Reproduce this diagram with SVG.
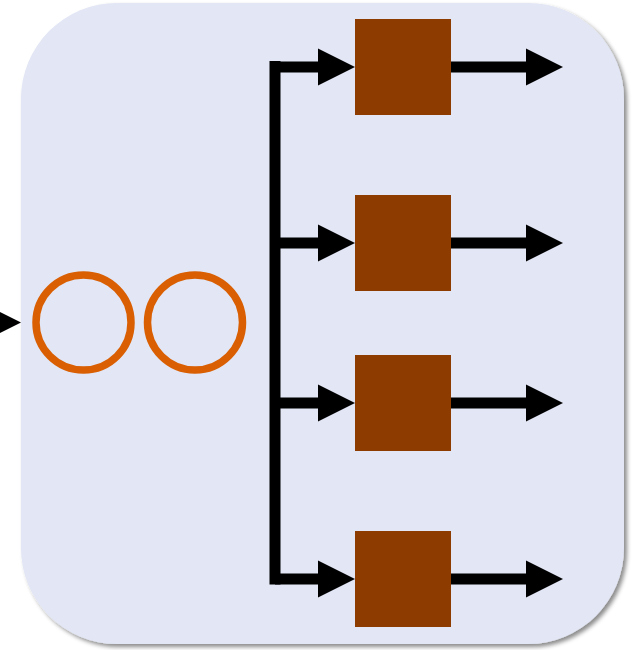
<svg xmlns="http://www.w3.org/2000/svg" width="635" height="650" viewBox="0 0 635 650">
<defs>
<filter id="sh" x="-10%" y="-10%" width="120%" height="120%">
<feDropShadow dx="3" dy="3" stdDeviation="2" flood-color="#000" flood-opacity="0.45"/>
</filter>
<polygon id="head" points="-37,-18.5 0,0 -37,18.5" fill="#000"/>
</defs>
<style>
.box{fill:#e2e6f5;}
.sq{fill:#8e3b00;}
.ring{fill:none;stroke:#d95f02;stroke-width:7.5;}
.wire{fill:none;stroke:#000;stroke-width:11;}
</style>
<g id="container">
<rect class="box" x="21" y="3" width="603" height="641" rx="96" ry="96" filter="url(#sh)"/>
</g>
<g id="connectors">
<use href="#head" x="21" y="322.5"/>
<line class="wire" x1="275" y1="61" x2="275" y2="584.5"/>
<line class="wire" x1="275" y1="67" x2="319" y2="67"/><use href="#head" x="355" y="67"/>
<line class="wire" x1="275" y1="243" x2="319" y2="243"/><use href="#head" x="355" y="243"/>
<line class="wire" x1="275" y1="403" x2="319" y2="403"/><use href="#head" x="355" y="403"/>
<line class="wire" x1="275" y1="579" x2="319" y2="579"/><use href="#head" x="355" y="579"/>
<line class="wire" x1="451" y1="67" x2="527" y2="67"/><use href="#head" x="563" y="67"/>
<line class="wire" x1="451" y1="243" x2="527" y2="243"/><use href="#head" x="563" y="243"/>
<line class="wire" x1="451" y1="403" x2="527" y2="403"/><use href="#head" x="563" y="403"/>
<line class="wire" x1="451" y1="579" x2="527" y2="579"/><use href="#head" x="563" y="579"/>
</g>
<g id="circle1"><circle class="ring" cx="83.5" cy="322.5" r="47.5"/></g>
<g id="circle2"><circle class="ring" cx="195" cy="322.5" r="47.5"/></g>
<g id="block1"><rect class="sq" x="355" y="19" width="96" height="96"/></g>
<g id="block2"><rect class="sq" x="355" y="195" width="96" height="96"/></g>
<g id="block3"><rect class="sq" x="355" y="355" width="96" height="96"/></g>
<g id="block4"><rect class="sq" x="355" y="531" width="96" height="96"/></g>
</svg>
